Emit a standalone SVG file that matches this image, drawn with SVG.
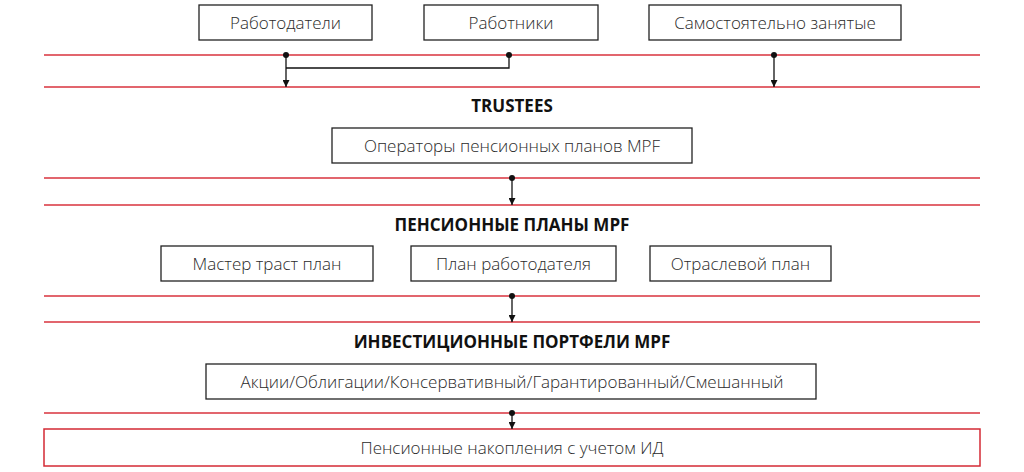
<svg xmlns="http://www.w3.org/2000/svg" width="1024" height="472" viewBox="0 0 1024 472">
<style>
.box{fill:#fff;stroke:#222;stroke-width:1.3}
.rbox{fill:#fff;stroke:#d42a35;stroke-width:1.5}
.t{font-family:"Open Sans","Liberation Sans",sans-serif;font-weight:300;font-size:17px;fill:#2a2a2a;text-anchor:middle;dominant-baseline:central}
.h{font-family:"Open Sans","Liberation Sans",sans-serif;font-weight:700;font-size:17px;fill:#111;text-anchor:middle;dominant-baseline:central}
.red{stroke:#d9323d;stroke-width:1.4;fill:none}
.c{stroke:#111;stroke-width:1.3;fill:none}
</style>
<defs>
<marker id="arr" viewBox="0 0 10 10" refX="10" refY="5" markerWidth="7" markerHeight="7" orient="auto" markerUnits="userSpaceOnUse"><path d="M0,0 L10,5 L0,10 z" fill="#111"/></marker>
<marker id="dot" viewBox="0 0 10 10" refX="5" refY="5" markerWidth="6" markerHeight="6" markerUnits="userSpaceOnUse"><circle cx="5" cy="5" r="5" fill="#111"/></marker>
</defs>
<g id="bands">
<line class="red" x1="44" y1="55" x2="980" y2="55"/>
<line class="red" x1="44" y1="87" x2="980" y2="87"/>
<line class="red" x1="44" y1="178" x2="980" y2="178"/>
<line class="red" x1="44" y1="205" x2="980" y2="205"/>
<line class="red" x1="44" y1="296" x2="980" y2="296"/>
<line class="red" x1="44" y1="322" x2="980" y2="322"/>
<line class="red" x1="44" y1="413" x2="980" y2="413" stroke-width="2"/>
</g>
<g id="n-employers"><rect class="box" x="199" y="5" width="173" height="35"/><text class="t" x="285.5" y="22.5">Работодатели</text></g>
<g id="n-employees"><rect class="box" x="424" y="5" width="174" height="35"/><text class="t" x="511" y="22.5">Работники</text></g>
<g id="n-self"><rect class="box" x="649" y="5" width="252" height="35"/><text class="t" x="775" y="22.5">Самостоятельно занятые</text></g>
<g id="h-trustees"><text class="h" x="512" y="105">TRUSTEES</text></g>
<g id="n-operators"><rect class="box" x="332" y="128" width="360" height="35"/><text class="t" x="512" y="145.5">Операторы пенсионных планов MPF</text></g>
<g id="h-plans"><text class="h" x="512" y="224">ПЕНСИОННЫЕ ПЛАНЫ MPF</text></g>
<g id="n-master"><rect class="box" x="161" y="246" width="212" height="35"/><text class="t" x="267" y="263.5">Мастер траст план</text></g>
<g id="n-employer-plan"><rect class="box" x="411" y="246" width="205" height="35"/><text class="t" x="513.5" y="263.5">План работодателя</text></g>
<g id="n-industry"><rect class="box" x="650" y="246" width="181" height="35"/><text class="t" x="740.5" y="263.5">Отраслевой план</text></g>
<g id="h-portfolios"><text class="h" x="512" y="341">ИНВЕСТИЦИОННЫЕ ПОРТФЕЛИ MPF</text></g>
<g id="n-portfolios"><rect class="box" x="206" y="364" width="610" height="35"/><text class="t" x="512" y="381.5" textLength="543" lengthAdjust="spacingAndGlyphs">Акции/Облигации/Консервативный/Гарантированный/Смешанный</text></g>
<g id="n-savings"><rect class="rbox" x="44" y="429" width="936" height="37"/><text class="t" x="512" y="447.5" textLength="303" lengthAdjust="spacingAndGlyphs">Пенсионные накопления с учетом ИД</text></g>
<g id="connectors">
<path class="c" d="M286,55 V87" marker-start="url(#dot)" marker-end="url(#arr)"/>
<path class="c" d="M509,55 V68 H286" marker-start="url(#dot)"/>
<path class="c" d="M774,55 V87" marker-start="url(#dot)" marker-end="url(#arr)"/>
<path class="c" d="M512,178 V205" marker-start="url(#dot)" marker-end="url(#arr)"/>
<path class="c" d="M512,296 V322" marker-start="url(#dot)" marker-end="url(#arr)"/>
<path class="c" d="M512,413 V429" marker-start="url(#dot)" marker-end="url(#arr)"/>
</g>
</svg>
